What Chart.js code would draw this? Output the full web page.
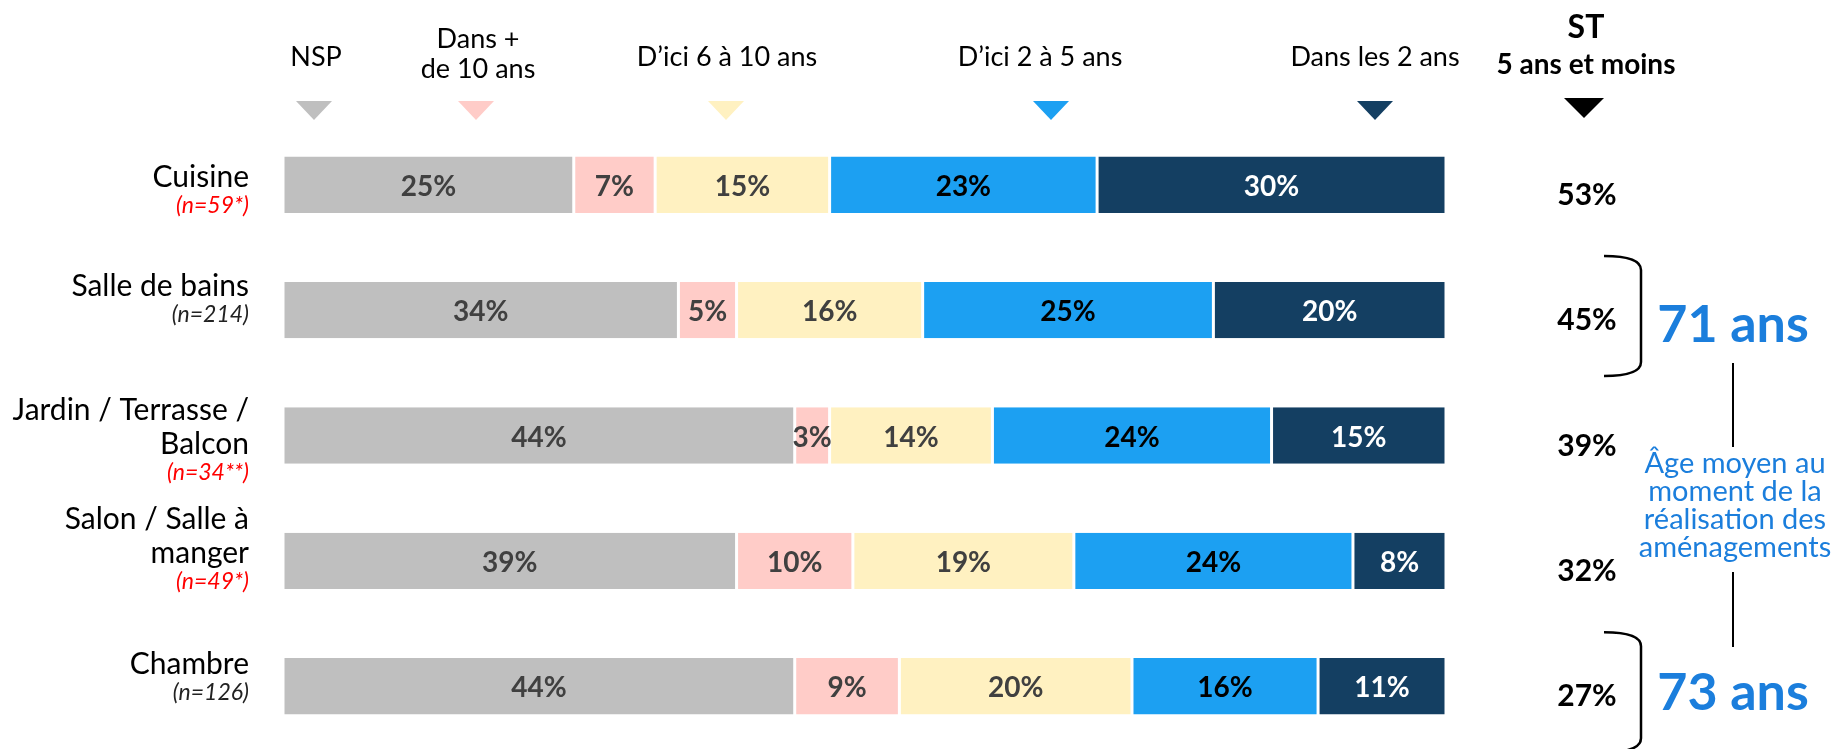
<!DOCTYPE html>
<html lang="fr">
<head>
<meta charset="utf-8">
<title>Horizon des aménagements par pièce</title>
<script src="https://cdn.jsdelivr.net/npm/chart.js@4/dist/chart.umd.min.js"></script>
<style>
  html, body { margin: 0; padding: 0; background: #fff; }
  #wrap { width: 1837px; height: 749px; }
</style>
</head>
<body>
<div id="wrap"><canvas id="amenagementChart" width="1837" height="749"></canvas></div>
<script>
// Pièces et effectifs
const rooms = [['Cuisine'], ['Salle de bains'], ['Jardin / Terrasse /', 'Balcon'], ['Salon / Salle à', 'manger'], ['Chambre']];
const sampleSizes = ['(n=59*)', '(n=214)', '(n=34**)', '(n=49*)', '(n=126)'];
const lowBase = [true, false, true, true, false]; // effectifs faibles en rouge

// Séries (en %)
const seriesNames = [['NSP'], ['Dans +', 'de 10 ans'], ['D\u2019ici 6 à 10 ans'], ['D\u2019ici 2 à 5 ans'], ['Dans les 2 ans']];
const nsp = [25, 34, 44, 39, 44];
const plus10 = [7, 5, 3, 10, 9];
const ici6a10 = [15, 16, 14, 19, 20];
const ici2a5 = [23, 25, 24, 24, 16];
const dans2 = [30, 20, 15, 8, 11];

// Âge moyen au moment de la réalisation
const ageRows = [1, 4];
const ageMoyen = [71, 73];

const colors = ['#BFBFBF', '#FFCCC8', '#FFF1C1', '#1CA0F2', '#143F62'];
const labelColors = ['#404040', '#404040', '#404040', '#000000', '#FFFFFF'];
const FONT = 'Lato, "Open Sans", sans-serif';
const BLUE = '#1B7EDC';

// position des en-têtes de légende (x du texte, x du triangle)
const headerX = [316, 478, 727, 1040, 1375];
const markerX = [314, 476, 726, 1051, 1375];
const labelDy = [15, -2, 14, -2, 0];
const ageDy = [32, 24];

const seriesValues = [nsp, plus10, ici6a10, ici2a5, dans2];

// ST = D'ici 2 à 5 ans + Dans les 2 ans
const stValues = rooms.map((_, i) => ici2a5[i] + dans2[i]);

function triangle(ctx, cx, top, w, h, color) {
  ctx.fillStyle = color;
  ctx.beginPath();
  ctx.moveTo(cx - w / 2, top);
  ctx.lineTo(cx + w / 2, top);
  ctx.lineTo(cx, top + h);
  ctx.closePath();
  ctx.fill();
}

const segmentLabels = {
  id: 'segmentLabels',
  afterDatasetsDraw(chart) {
    const ctx = chart.ctx;
    ctx.save();
    ctx.font = 'bold 28px ' + FONT;
    ctx.textAlign = 'center';
    ctx.textBaseline = 'middle';
    chart.data.datasets.forEach((ds, d) => {
      const meta = chart.getDatasetMeta(d);
      meta.data.forEach((bar, i) => {
        ctx.fillStyle = labelColors[d];
        ctx.fillText(ds.data[i] + '%', (bar.x + bar.base) / 2, bar.y + 2);
      });
    });
    ctx.restore();
  }
};

const decorations = {
  id: 'decorations',
  afterDraw(chart) {
    const ctx = chart.ctx;
    const yScale = chart.scales.y;
    ctx.save();

    // en-têtes des séries + triangles
    ctx.textAlign = 'center';
    ctx.textBaseline = 'alphabetic';
    ctx.font = '27px ' + FONT;
    seriesNames.forEach((lines, s) => {
      ctx.fillStyle = '#000';
      if (lines.length === 1) {
        ctx.fillText(lines[0], headerX[s], 66);
      } else {
        ctx.fillText(lines[0], headerX[s], 48);
        ctx.fillText(lines[1], headerX[s], 78);
      }
      triangle(ctx, markerX[s], 101, 36, 19, colors[s]);
    });

    // colonne ST
    ctx.fillStyle = '#000';
    ctx.font = 'bold 32px ' + FONT;
    ctx.fillText('ST', 1586, 38);
    ctx.font = 'bold 28px ' + FONT;
    ctx.fillText('5 ans et moins', 1586, 74);
    triangle(ctx, 1584, 98, 40, 20, '#000');
    ctx.fillStyle = '#000';
    ctx.font = 'bold 30px ' + FONT;
    stValues.forEach((v, i) => {
      ctx.fillText(v + '%', 1587, yScale.getPixelForValue(i) + 20);
    });

    // libellés des pièces
    ctx.textAlign = 'right';
    rooms.forEach((lines, i) => {
      const cy = yScale.getPixelForValue(i) + labelDy[i];
      const h = (lines.length - 1) * 34 + 25;
      let y = cy - h / 2;
      ctx.fillStyle = '#000';
      ctx.font = '30px ' + FONT;
      lines.forEach(line => {
        ctx.fillText(line, 249, y);
        y += 34;
      });
      ctx.fillStyle = lowBase[i] ? '#FF0000' : '#222';
      ctx.font = 'italic 23px ' + FONT;
      ctx.fillText(sampleSizes[i], 249, y - 8);
    });

    // accolades et âges moyens
    ctx.strokeStyle = '#000';
    ctx.lineWidth = 2.5;
    ageRows.forEach((row, g) => {
      const c = yScale.getPixelForValue(row) + 4;
      const top = c - 58, bottom = c + 62;
      ctx.beginPath();
      ctx.moveTo(1604, top);
      ctx.quadraticCurveTo(1641, top, 1641, top + 14);
      ctx.lineTo(1641, bottom - 14);
      ctx.quadraticCurveTo(1641, bottom, 1604, bottom);
      ctx.stroke();

      ctx.fillStyle = BLUE;
      ctx.textAlign = 'center';
      ctx.font = 'bold 52px ' + FONT;
      ctx.fillText(ageMoyen[g] + ' ans', 1733, yScale.getPixelForValue(row) + ageDy[g]);
    });

    // lien vertical + texte explicatif
    ctx.lineWidth = 2;
    ctx.beginPath();
    ctx.moveTo(1733, 363);
    ctx.lineTo(1733, 447);
    ctx.moveTo(1733, 572);
    ctx.lineTo(1733, 647);
    ctx.stroke();

    ctx.fillStyle = BLUE;
    ctx.font = '29px ' + FONT;
    ['Âge moyen au', 'moment de la', 'réalisation des', 'aménagements'].forEach((line, k) => {
      ctx.fillText(line, 1735, 473 + k * 28);
    });

    ctx.restore();
  }
};

const ctx = document.getElementById('amenagementChart').getContext('2d');
new Chart(ctx, {
  type: 'bar',
  data: {
    labels: rooms.map(r => r.join(' ')),
    datasets: seriesValues.map((values, s) => ({
      label: seriesNames[s].join(' '),
      data: values,
      backgroundColor: colors[s],
      borderColor: '#FFFFFF',
      borderWidth: { left: 1.5, right: 1.5, top: 0, bottom: 0 },
      borderSkipped: false,
      barPercentage: 0.45,
      categoryPercentage: 1
    }))
  },
  options: {
    indexAxis: 'y',
    responsive: false,
    animation: false,
    layout: { padding: { left: 283, right: 391, top: 122, bottom: 0 } },
    scales: {
      x: { stacked: true, min: 0, max: 100, display: false },
      y: { stacked: true, display: false }
    },
    plugins: {
      legend: { display: false },
      tooltip: { enabled: false }
    }
  },
  plugins: [segmentLabels, decorations]
});
</script>
</body>
</html>
